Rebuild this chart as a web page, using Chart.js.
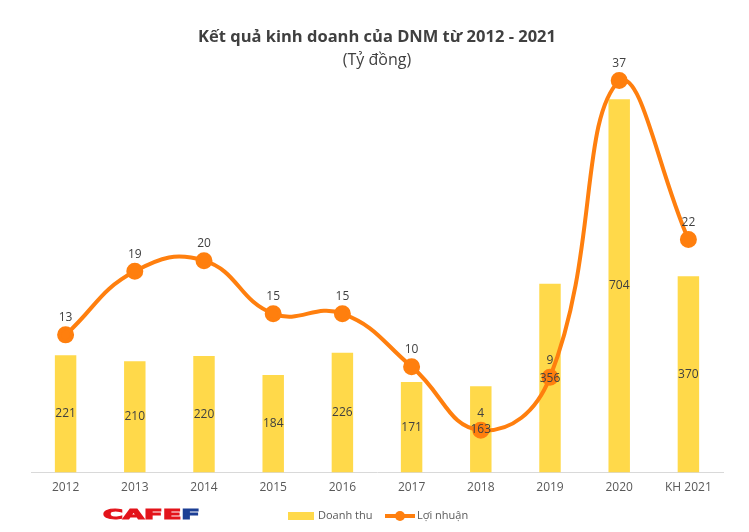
<!DOCTYPE html>
<html>
<head>
<meta charset="utf-8">
<script src="https://cdn.jsdelivr.net/npm/chart.js@4"></script>
<style>
  body { margin: 0; background: #fff; }
  #wrap { width: 749px; height: 532px; }
</style>
</head>
<body>
<div id="wrap"><canvas id="kqkdChart"></canvas></div>
<script>
const years = ['2012', '2013', '2014', '2015', '2016', '2017', '2018', '2019', '2020', 'KH 2021'];
const doanhThu = [221, 210, 220, 184, 226, 171, 163, 356, 704, 370];
const loiNhuan = [13, 19, 20, 15, 15, 10, 4, 9, 37, 22];

const FONT = '"Open Sans", "Noto Sans", sans-serif';
const BAR_COLOR = '#FFD94A';
const LINE_COLOR = '#FF7F0E';
const TEXT_COLOR = '#404040';

// so that numbers sit in the middle of bars and above the points
const valueLabels = {
  id: 'valueLabels',
  afterDatasetsDraw(chart) {
    const ctx = chart.ctx;
    ctx.save();
    ctx.font = '12px ' + FONT;
    ctx.fillStyle = TEXT_COLOR;
    ctx.textAlign = 'center';
    ctx.textBaseline = 'middle';
    chart.getDatasetMeta(0).data.forEach((bar, i) => {
      ctx.fillText(doanhThu[i], bar.x, (bar.y + bar.base) / 2);
    });
    chart.getDatasetMeta(1).data.forEach((pt, i) => {
      ctx.fillText(loiNhuan[i], pt.x, pt.y - 17);
    });
    ctx.restore();
  }
};

// legend + logo at the bottom
const footer = {
  id: 'footer',
  afterDraw(chart) {
    const ctx = chart.ctx;
    ctx.save();
    const y = 516;
    ctx.fillStyle = BAR_COLOR;
    ctx.fillRect(288, y - 4, 26, 8);
    ctx.font = '11px ' + FONT;
    ctx.fillStyle = '#595959';
    ctx.textBaseline = 'middle';
    ctx.fillText('Doanh thu', 318, y);
    ctx.strokeStyle = LINE_COLOR;
    ctx.lineWidth = 4;
    ctx.beginPath();
    ctx.moveTo(385, y);
    ctx.lineTo(415, y);
    ctx.stroke();
    ctx.fillStyle = LINE_COLOR;
    ctx.beginPath();
    ctx.arc(400, y, 5, 0, Math.PI * 2);
    ctx.fill();
    ctx.fillStyle = '#595959';
    ctx.fillText('Lợi nhuận', 417, y);

    // CAFEF
    ctx.font = 'bold 16px "DejaVu Sans"';
    ctx.textBaseline = 'alphabetic';
    const w1 = ctx.measureText('CAFE').width;
    const w2 = ctx.measureText('F').width;
    const sx = 97 / (w1 + w2);
    ctx.translate(103, 519);
    ctx.scale(sx, 0.85);
    ctx.fillStyle = '#E3141B';
    ctx.strokeStyle = '#E3141B';
    ctx.lineWidth = 1.2;
    ctx.fillText('CAFE', 0, 0);
    ctx.strokeText('CAFE', 0, 0);
    ctx.fillStyle = '#1C3F94';
    ctx.strokeStyle = '#1C3F94';
    ctx.fillText('F', w1, 0);
    ctx.strokeText('F', w1, 0);
    ctx.restore();
  }
};

const ctx = document.getElementById('kqkdChart').getContext('2d');
new Chart(ctx, {
  type: 'bar',
  data: {
    labels: years,
    datasets: [{
      type: 'bar',
      label: 'Doanh thu',
      data: doanhThu,
      backgroundColor: BAR_COLOR,
      categoryPercentage: 1,
      barPercentage: 0.31,
      yAxisID: 'yBar',
      order: 2
    }, {
      type: 'line',
      label: 'Lợi nhuận',
      data: loiNhuan,
      borderColor: LINE_COLOR,
      backgroundColor: LINE_COLOR,
      borderWidth: 4,
      pointRadius: 6.5,
      pointHoverRadius: 6.5,
      tension: 0.45,
      clip: false,
      yAxisID: 'yLine',
      order: 1
    }]
  },
  options: {
    responsive: true,
    maintainAspectRatio: false,
    animation: false,
    layout: {
      padding: { top: 0, left: 31, right: 26, bottom: 29 }
    },
    scales: {
      x: {
        grid: { display: false, drawTicks: false },
        border: { display: true, color: '#D9D9D9', width: 1 },
        ticks: { color: '#595959', font: { family: FONT, size: 12 }, padding: 8 }
      },
      yBar: { display: false, min: 0, max: 759 },
      yLine: { display: false, min: 0, max: 38 }
    },
    plugins: {
      legend: { display: false },
      tooltip: { enabled: false },
      title: {
        display: true,
        text: 'Kết quả kinh doanh của DNM từ 2012 - 2021',
        color: TEXT_COLOR,
        font: { family: FONT, size: 16.5, weight: 'bold' },
        padding: { top: 27, bottom: 3 }
      },
      subtitle: {
        display: true,
        text: '(Tỷ đồng)',
        color: TEXT_COLOR,
        font: { family: FONT, size: 16 },
        padding: { top: 1, bottom: 0 }
      }
    }
  },
  plugins: [valueLabels, footer]
});
</script>
</body>
</html>
